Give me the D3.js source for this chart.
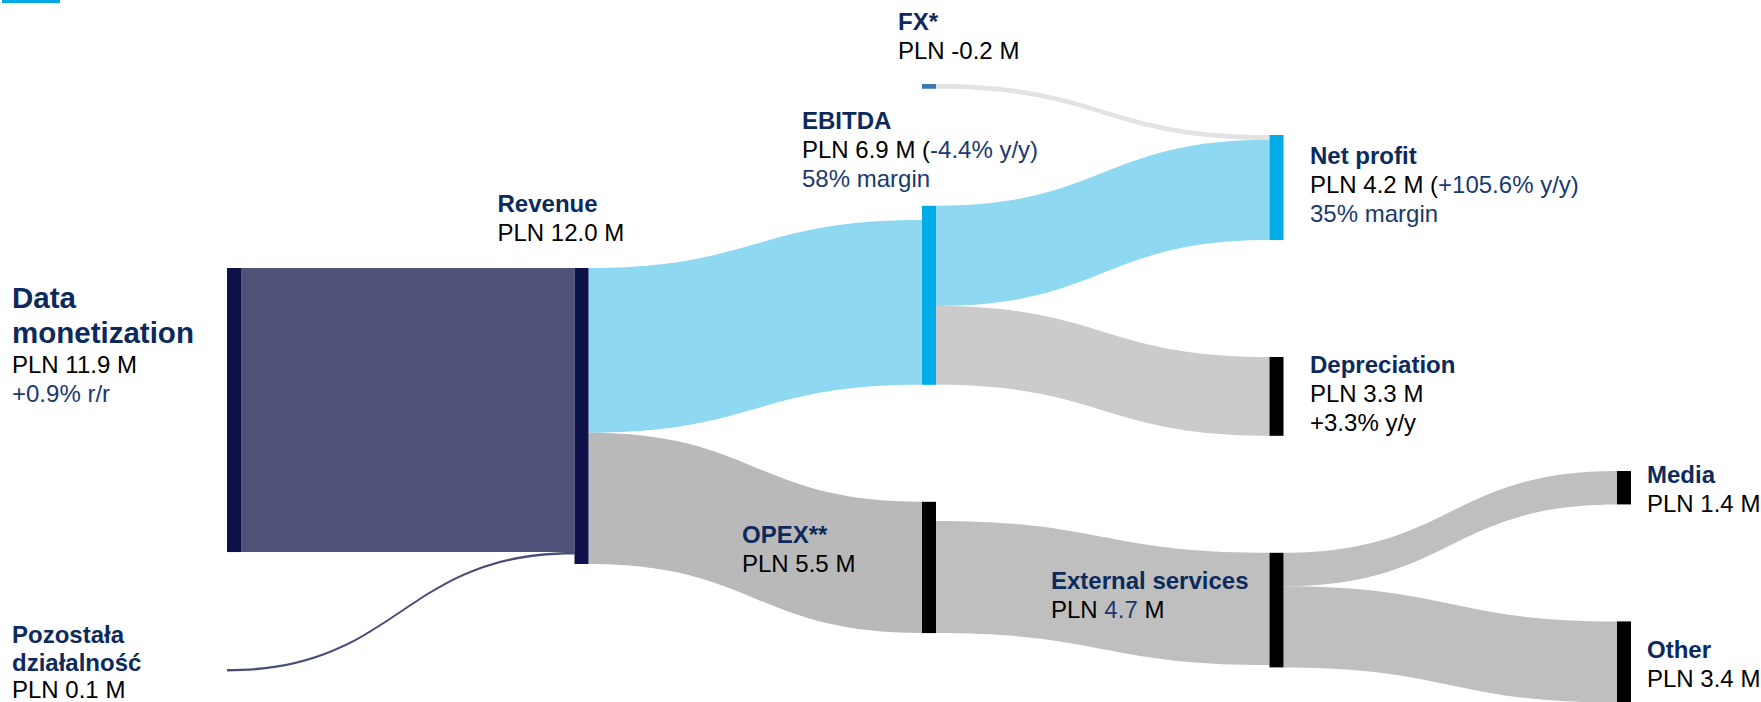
<!DOCTYPE html>
<html>
<head>
<meta charset="utf-8">
<script src="https://cdn.jsdelivr.net/npm/d3@7"></script>
<style>
  html, body { margin: 0; padding: 0; background: #fff; }
  svg { display: block; font-family: "Liberation Sans", Arial, Helvetica, sans-serif; }
</style>
</head>
<body>
<svg id="chart" width="1761" height="702"></svg>
<script>
// ---- Data -------------------------------------------------------------
const nodeNames  = ["Data monetization", "Pozostała działalność", "Revenue", "FX*", "EBITDA", "OPEX**",
                    "Net profit", "Depreciation", "External services", "Media", "Other"];
const nodeValues = [11.9, 0.1, 12.0, -0.2, 6.9, 5.5, 4.2, 3.3, 4.7, 1.4, 3.4];

const linkSources = ["Data monetization", "Pozostała działalność", "Revenue", "Revenue", "FX*",
                     "EBITDA", "EBITDA", "OPEX**", "External services", "External services"];
const linkTargets = ["Revenue", "Revenue", "EBITDA", "OPEX**", "Net profit",
                     "Net profit", "Depreciation", "External services", "Media", "Other"];
const linkValues  = [11.9, 0.1, 6.9, 5.5, 0.2, 4.2, 3.3, 4.7, 1.4, 3.4];

const changeNodes = ["Data monetization", "EBITDA", "Net profit", "Depreciation"];
const changeTexts = ["+0.9% r/r", "-4.4% y/y", "+105.6% y/y", "+3.3% y/y"];
const marginNodes = ["EBITDA", "Net profit"];
const marginTexts = ["58% margin", "35% margin"];

// ---- Layout settings --------------------------------------------------
const nodeWidth = 14;
const nodePadding = 117;
const columnTop = [268, 268, 84, 135, 471];
const xCol = d3.scalePoint().domain(d3.range(5)).range([227, 1617]);
const valueScale = d3.scaleLinear().domain([0, 10]).range([0, 238.7]);
const inAlignBottom = new Set(["EBITDA"]);
const outAlignBottom = new Set(["OPEX**"]);
const hiddenNodes = new Set(["Pozostała działalność"]);

// title line breaks
const titleBreaks = new Map([
  ["Data monetization", ["Data", "monetization"]],
  ["Pozostała działalność", ["Pozostała", "działalność"]]
]);
// label anchor relative to node (x0, y0): [dx, dy of first baseline]
const labelOffset = new Map([
  ["Data monetization", [-215, 40]],
  ["Pozostała działalność", [-215, -26]],
  ["Revenue", [-77, -56]],
  ["FX*", [-24, -54]],
  ["EBITDA", [-120, -77]],
  ["OPEX**", [-180, 41]],
  ["Net profit", [40.5, 29]],
  ["Depreciation", [40.5, 16]],
  ["External services", [-218.5, 36]],
  ["Media", [30, 12]],
  ["Other", [30, 37]]
]);
const inlineChange = new Set(["EBITDA", "Net profit"]);
const navyValue = new Set(["External services"]);
const blackChange = new Set(["Depreciation"]);

const C = {
  ink: "#000000",
  navy: "#0c2a5c",
  navySoft: "#1a3a6e"
};
const nodeFill = new Map([
  ["Data monetization", "#0e1148"], ["Revenue", "#0e1148"],
  ["FX*", "#3a7ab6"], ["EBITDA", "#00abe6"], ["Net profit", "#00abe6"]
]);
function linkFill(l) {
  const s = l.source.name, t = l.target.name;
  if (t === "Revenue") return s === "Pozostała działalność" ? "#4a4d75" : "#4e5178";
  if (s === "FX*") return "#e3e3e3";
  if (t === "EBITDA" || t === "Net profit") return "#8fd8f2";
  if (t === "OPEX**") return "#b9b9b9";
  if (t === "Depreciation") return "#cbcbcb";
  return "#bfbfbf";
}

// ---- Build graph ------------------------------------------------------
const nodes = nodeNames.map((name, i) => ({ name, value: nodeValues[i], inLinks: [], outLinks: [] }));
const byName = new Map(nodes.map(n => [n.name, n]));
const links = linkSources.map((s, i) => ({
  source: byName.get(s), target: byName.get(linkTargets[i]), value: linkValues[i]
}));
links.forEach(l => { l.source.outLinks.push(l); l.target.inLinks.push(l); });

// column = longest path from a source; pure sources sit just before their targets
function depthOf(n) {
  if (n.depth !== undefined) return n.depth;
  n.depth = n.inLinks.length ? d3.max(n.inLinks, l => depthOf(l.source)) + 1 : 0;
  return n.depth;
}
nodes.forEach(depthOf);
nodes.forEach(n => {
  if (!n.inLinks.length && n.outLinks.length) n.depth = d3.min(n.outLinks, l => l.target.depth) - 1;
});
nodes.forEach(n => {
  n.flowIn = d3.sum(n.inLinks, l => l.value);
  n.flowOut = d3.sum(n.outLinks, l => l.value);
  n.size = Math.max(n.flowIn, n.flowOut);
});

// stack nodes in each column
d3.groups(nodes, n => n.depth).forEach(([depth, col]) => {
  let y = columnTop[depth];
  col.forEach(n => {
    n.x0 = xCol(depth);
    n.x1 = n.x0 + (hiddenNodes.has(n.name) ? 0 : nodeWidth);
    n.y0 = y; n.y1 = y + valueScale(n.size);
    y = n.y1 + nodePadding;
  });
});

// stack link ends on each node
nodes.forEach(n => {
  let y = n.y0 + (inAlignBottom.has(n.name) ? valueScale(n.size - n.flowIn) : 0);
  n.inLinks.forEach(l => { l.ty0 = y; y += valueScale(l.value); l.ty1 = y; });
  y = n.y0 + (outAlignBottom.has(n.name) ? valueScale(n.size - n.flowOut) : 0);
  n.outLinks.forEach(l => { l.sy0 = y; y += valueScale(l.value); l.sy1 = y; });
});

function ribbon(l) {
  const x0 = l.source.x1, x1 = l.target.x0;
  const xi = d3.interpolateNumber(x0, x1);
  const c0 = xi(0.5), c1 = xi(0.5);
  const p = d3.path();
  p.moveTo(x0, l.sy0);
  p.bezierCurveTo(c0, l.sy0, c1, l.ty0, x1, l.ty0);
  p.lineTo(x1, l.ty1);
  p.bezierCurveTo(c1, l.ty1, c0, l.sy1, x0, l.sy1);
  p.closePath();
  return p.toString();
}

// ---- Draw -------------------------------------------------------------
const svg = d3.select("#chart");

// accent bar in the corner
svg.append("rect").attr("x", 2).attr("y", 0).attr("width", 58).attr("height", 3).attr("fill", "#00a9e6");

svg.append("g").attr("class", "links")
  .selectAll("path").data(links).join("path")
  .attr("d", ribbon)
  .attr("fill", linkFill);

svg.append("g").attr("class", "nodes")
  .selectAll("rect").data(nodes.filter(n => !hiddenNodes.has(n.name))).join("rect")
  .attr("x", d => d.x0).attr("y", d => d.y0)
  .attr("width", d => d.x1 - d.x0).attr("height", d => d.y1 - d.y0)
  .attr("fill", d => nodeFill.get(d.name) || "#000000");

// labels
const fmt = d3.formatLocale({ decimal: ".", thousands: ",", grouping: [3], currency: ["", ""], minus: "-" }).format(".1f");
const changeOf = new Map(changeNodes.map((n, i) => [n, changeTexts[i]]));
const marginOf = new Map(marginNodes.map((n, i) => [n, marginTexts[i]]));

function labelLines(n) {
  const big = n.name === "Data monetization";
  const lines = [];
  (titleBreaks.get(n.name) || [n.name]).forEach((t, i) => lines.push({
    gap: i === 0 ? 0 : (big ? 35 : 28),
    segs: [{ text: t, fill: C.navy, weight: 700, size: big ? 29.5 : 24 }]
  }));
  const v = fmt(n.value);
  const valueSegs = navyValue.has(n.name)
    ? [{ text: "PLN " }, { text: v, fill: C.navySoft }, { text: " M" }]
    : [{ text: "PLN " + v + " M" }];
  const ch = changeOf.get(n.name);
  if (ch && inlineChange.has(n.name)) {
    valueSegs.push({ text: " (" }, { text: ch + ")", fill: C.navySoft });
  }
  lines.push({ gap: big ? 30 : (n.name === "Pozostała działalność" ? 27 : 29), segs: valueSegs });
  if (ch && !inlineChange.has(n.name)) {
    lines.push({ gap: 29, segs: [{ text: ch, fill: blackChange.has(n.name) ? C.ink : C.navySoft }] });
  }
  const m = marginOf.get(n.name);
  if (m) lines.push({ gap: 29, segs: [{ text: m, fill: C.navySoft }] });
  return lines;
}

const labels = svg.append("g").attr("class", "labels")
  .selectAll("text").data(nodes).join("text")
  .attr("x", d => d.x0 + labelOffset.get(d.name)[0])
  .attr("y", d => d.y0 + labelOffset.get(d.name)[1]);

labels.each(function (d) {
  const text = d3.select(this);
  const x = d.x0 + labelOffset.get(d.name)[0];
  let y = d.y0 + labelOffset.get(d.name)[1];
  labelLines(d).forEach(line => {
    y += line.gap;
    line.segs.forEach((s, i) => {
      const t = text.append("tspan")
        .text(s.text)
        .attr("fill", s.fill || C.ink)
        .attr("font-size", s.size || 24)
        .attr("font-weight", s.weight || 400)
        .style("white-space", "pre");
      if (i === 0) t.attr("x", x).attr("y", y);
    });
  });
});
</script>
</body>
</html>
